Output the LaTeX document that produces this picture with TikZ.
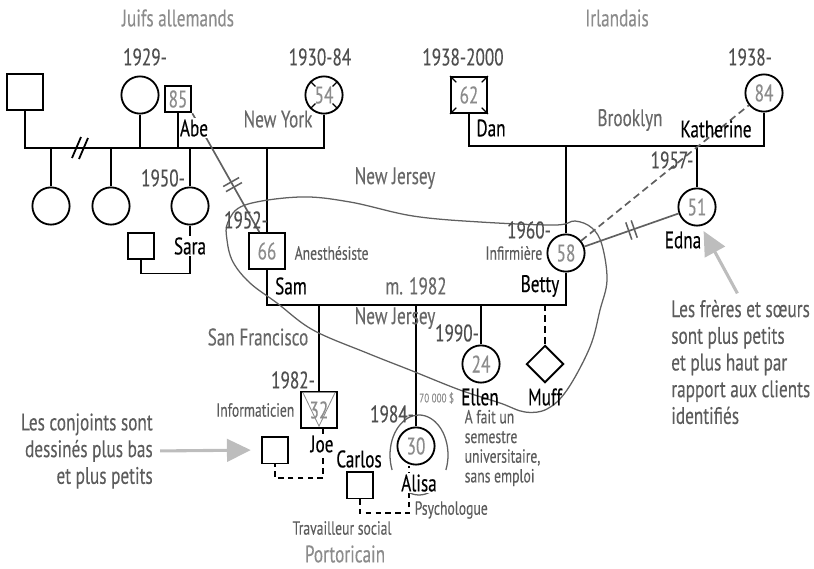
\documentclass[tikz,border=0pt]{standalone}
\usepackage{fontspec}
\setmainfont{PT Sans}[FakeStretch=0.72, FakeBold=0.25]
\usetikzlibrary{shapes.geometric,arrows.meta,calc}

\definecolor{dategray}{HTML}{4F4F4F}
\definecolor{placegray}{HTML}{686868}
\definecolor{headgray}{HTML}{8C8C8C}
\definecolor{agegray}{HTML}{8C8C8C}
\definecolor{notegray}{HTML}{5C5C5C}
\definecolor{loopgray}{HTML}{606060}
\definecolor{hintgray}{HTML}{BDBDBD}

\tikzset{
  kin/.style={line width=1.3pt},
  male/.style={draw, rectangle, line width=1.3pt, minimum size=0.9cm, inner sep=0pt, text=agegray},
  smallmale/.style={male, minimum size=0.67cm},
  female/.style={draw, circle, line width=1.3pt, minimum size=0.93cm, inner sep=0pt, text=agegray},
  pet/.style={draw, diamond, line width=1.3pt, minimum size=0.93cm, inner sep=0pt},
  pname/.style={inner sep=1pt},
  date/.style={text=dategray, inner sep=1pt},
  place/.style={text=placegray, inner sep=1pt},
  job/.style={text=notegray, inner sep=1pt, font=\fontsize{13.5}{14}\selectfont},
  cutoff/.style={line width=1.2pt, draw=loopgray},
  household/.style={line width=0.9pt, draw=loopgray},
  hint/.style={line width=2.2pt, draw=hintgray, -{Triangle[length=17pt, width=16pt]}},
  annot/.style={text=notegray, inner sep=0pt, font=\fontsize{17}{19}\selectfont}
}

\begin{document}
\begin{tikzpicture}[x=0.025cm, y=-0.025cm, font=\fontsize{17}{19}\selectfont]
\useasboundingbox (0,0) rectangle (814,568);

% generation 1
\node[male] (gf) at (25,92) {};
\node[female] (gm) at (140,95) {};
\node[smallmale] (abe) at (178,99) {85};
\node[female] (abew) at (324,95) {54};
\node[male] (dan) at (469,95) {62};
\node[female] (kath) at (764,93) {84};

% generation 2
\node[female] (sis1) at (51,206) {};
\node[female] (sis2) at (111,206) {};
\node[female] (sara) at (190,206) {};
\node[smallmale] (sarasp) at (141,246) {};
\node[male] (sam) at (267,251) {66};
\node[female] (betty) at (566,253) {58};
\node[female] (edna) at (697,207) {51};

% generation 3
\node[male] (joe) at (319,410) {32};
\node[smallmale] (joesp) at (275,450) {};
\node[female] (alisa) at (416,446) {30};
\node[smallmale] (carlos) at (360,485) {};
\node[female] (ellen) at (481,364) {24};
\node[pet] (muff) at (545,364) {};

% deceased marks
\foreach \a in {45,135,225,315}
  \draw[line width=0.8pt] (abew.\a) -- ($(abew.center)!0.62!(abew.\a)$);
\foreach \c in {north east,north west,south east,south west}
  \draw[line width=0.8pt] (dan.\c) -- ($(dan.\c)!0.33!(dan.center)$);
\draw[agegray, line width=0.6pt] ([xshift=2pt,yshift=-1pt]joe.north west) -- ([xshift=-2pt,yshift=-1pt]joe.north east) -- ([yshift=2pt]joe.south) -- cycle;

% lines
\coordinate (jline) at (0,148);
\coordinate (iline) at (0,146);
\coordinate (wed) at (0,305);
\coordinate (div) at (80,148);

\draw[kin] (gf.south) -- (gf.south |- jline) -- (abew.south |- jline) -- (abew.south);
\draw[kin] (gm.south) -- (gm.south |- jline);
\draw[kin] (abe.south) -- (abe.south |- jline);
\draw[kin] (sis1.north) -- (sis1.north |- jline);
\draw[kin] (sis2.north) -- (sis2.north |- jline);
\draw[kin] (sara.north) -- (sara.north |- jline);
\draw[kin] (sam.north) -- (sam.north |- jline);
\draw[kin] (div) ++(-8,10) -- ++(9,-21) (div) ++(-1,11) -- ++(9,-21);
\draw[kin] (sara.south) -- ++(0,48) -| (sarasp.south);

\draw[kin] (dan.south) -- (dan.south |- iline) -- (kath.south |- iline) -- (kath.south);
\draw[kin] (betty.north) -- (betty.north |- iline);
\draw[kin] (edna.north) -- (edna.north |- iline);

\draw[kin] (sam.south) -- (sam.south |- wed) -- (betty.south |- wed) -- (betty.south);
\draw[kin] (joe.north) -- (joe.north |- wed);
\draw[kin] (alisa.north) -- (alisa.north |- wed);
\draw[kin] (ellen.north) -- (ellen.north |- wed);
\draw[kin, dash pattern=on 5pt off 3pt] (muff.north) -- (muff.north |- wed);
\draw[kin, dash pattern=on 4pt off 3pt] ([xshift=3pt]joe.south) -- ++(0,49) -| (joesp.south);
\draw[kin, dash pattern=on 4pt off 3pt] (carlos.south) -- ++(0,14) -| ([xshift=-5pt]alisa.south);

% conflicts
\draw[cutoff] (abe.south east) -- (sam.112)
  node[pos=0.6, sloped, text=loopgray, inner sep=0pt] {\rule{1.1pt}{13pt}\hspace{3pt}\rule{1.1pt}{13pt}};
\draw[cutoff] (betty) -- (edna)
  node[pos=0.5, sloped, text=loopgray, inner sep=0pt] {\rule{1.1pt}{13pt}\hspace{3pt}\rule{1.1pt}{13pt}};
\draw[cutoff, dash pattern=on 5pt off 3pt] (betty) -- (kath);

% household
\draw[household] plot[smooth cycle, tension=0.6] coordinates {
  (228,222) (245,205) (300,197) (350,202) (413,216) (480,222) (555,225) (575,221)
  (592,228) (602,245) (607,280) (600,310) (590,347) (567,390) (547,409) (525,412)
  (500,403) (460,390) (410,370) (367,353) (313,330) (277,303) (250,283) (233,262) (227,240)};
\coordinate (aloop) at (419,455);
\draw[household] (aloop) ++(22:29 and 40) arc[start angle=22, end angle=-202, x radius=29, y radius=40];
\draw[household] (aloop) ++(64:29 and 40) arc[start angle=64, end angle=116, x radius=29, y radius=40];

% labels
\node[text=headgray] (jewish) at (178,18) {Juifs allemands};
\node[text=headgray] (irish) at (617,18) {Irlandais};
\node[text=headgray] (prican) at (345,554) {Portoricain};

\node[date] (gmdate) at (145,57) {1929-};
\node[date] (abewdate) at (320,57) {1930-84};
\node[date] (dandate) at (463,57) {1938-2000};
\node[date] (kathdate) at (750,57) {1938-};
\node[date] (saradate) at (163,178) {1950-};
\node[date] (samdate) at (246,220) {1952-};
\node[date] (bettydate) at (529,230) {1960-};
\node[date] (ednadate) at (672,160) {1957-};
\node[date] (joedate) at (293,380) {1982-};
\node[date] (alisadate) at (392,414) {1984-};
\node[date] (ellendate) at (457,333) {1990-};

\node[place] (ny) at (278,119) {New York};
\node[place] (bk) at (630,120) {Brooklyn};
\node[place] (nj1) at (395,178) {New Jersey};
\node[place] (nj2) at (395,318) {New Jersey};
\node[place] (sf) at (258,337) {San Francisco};
\node[place] (marr) at (416,286) {m. 1982};

\node[pname, fill=white] (abename) at (194,128) {Abe};
\node[pname] (danname) at (491,128) {Dan};
\node[pname] (kathname) at (716,129) {Katherine};
\node[pname, fill=white] (saraname) at (190,246) {Sara};
\node[pname] (samname) at (291,286) {Sam};
\node[pname] (bettyname) at (540,286) {Betty};
\node[pname] (ednaname) at (683,240) {Edna};
\node[pname] (ellenname) at (480,397) {Ellen};
\node[pname] (muffname) at (545,397) {Muff};
\node[pname, fill=white] (joename) at (322,444) {Joe};
\node[pname] (carlosname) at (359,459) {Carlos};
\node[pname, fill=white] (alisaname) at (419,483) {Alisa};

\node[job, anchor=west] (samjob) at (293,253) {Anesthésiste};
\node[job, anchor=east] (bettyjob) at (544,253) {Infirmière};
\node[job, anchor=east] (joejob) at (296,410) {Informaticien};
\node[job, anchor=west] (alisajob) at (413,510) {Psychologue};
\node[job] (carlosjob) at (342,528) {Travailleur social};
\node[job, anchor=west, align=left, font=\fontsize{13.5}{14}\selectfont] (ellenjob) at (463,448) {A fait un\\semestre\\universitaire,\\sans emploi};
\node[text=agegray, anchor=west, inner sep=0pt, font=\fontsize{9}{10}\selectfont] (salary) at (419,398) {70 000 \$};

% notes
\node[annot, anchor=east, align=right] (spnote) at (153,451) {Les conjoints sont\\dessinés plus bas\\et plus petits};
\node[annot, anchor=west, align=left] (sibnote) at (671,362) {Les frères et sœurs\\sont plus petits\\et plus haut par\\rapport aux clients\\identifiés};
\draw[hint, shorten <=5pt, shorten >=7pt] (spnote.east) -- (joesp.west);
\draw[hint, shorten <=5pt, shorten >=1pt] (sibnote.north) -- (ednaname.north east);

\end{tikzpicture}
\end{document}
